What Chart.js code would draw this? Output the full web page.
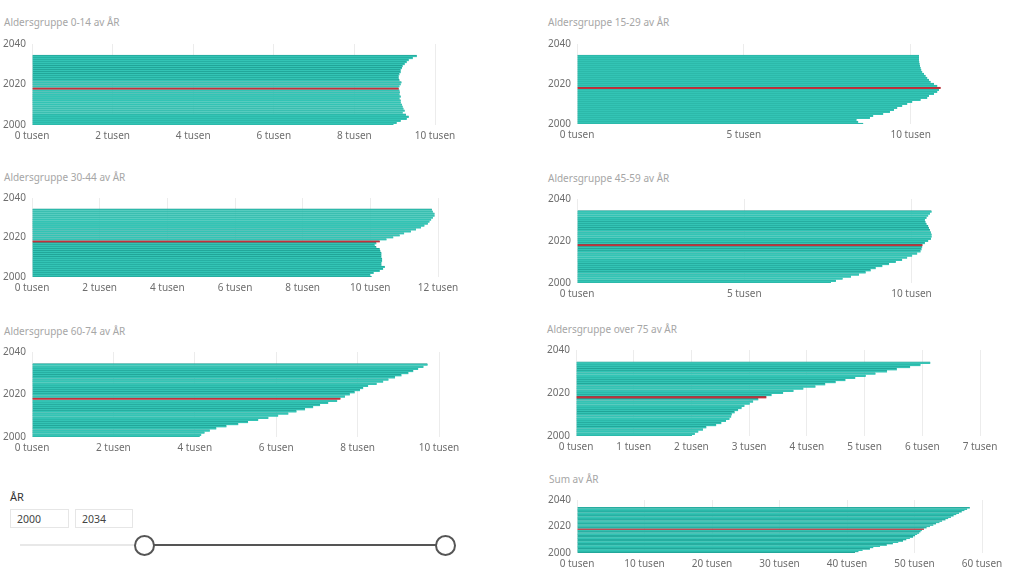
<!DOCTYPE html>
<html>
<head>
<meta charset="utf-8">
<script src="https://cdn.jsdelivr.net/npm/chart.js@4.4.1/dist/chart.umd.min.js"></script>
<style>
body { margin: 0; width: 1024px; height: 576px; background: #fff; position: relative; overflow: hidden;
       font-family: "Segoe UI", "Noto Sans", sans-serif; }
.box { position: absolute; }
.title { position: absolute; font-size: 10px; line-height: 12px; color: #a6a6a6; white-space: nowrap; }
.lbl { position: absolute; font-size: 11px; color: #333; }
.inp { position: absolute; height: 19px; border: 1px solid #e6e6e6; font-size: 10.5px; line-height: 19px;
       color: #444; padding-left: 6px; box-sizing: border-box; }
.track { position: absolute; height: 2px; }
.knob { position: absolute; width: 21px; height: 21px; border: 2px solid #555; border-radius: 50%;
        background: #fff; box-sizing: border-box; }
</style>
</head>
<body>
<script>
// years on the y axis, values in tusen (thousands)
var years = [2000, 2001, 2002, 2003, 2004, 2005, 2006, 2007, 2008, 2009,
             2010, 2011, 2012, 2013, 2014, 2015, 2016, 2017, 2018, 2019,
             2020, 2021, 2022, 2023, 2024, 2025, 2026, 2027, 2028, 2029,
             2030, 2031, 2032, 2033, 2034];
var highlightYear = 2018;

var age0_14 = [8.97, 9.05, 9.15, 9.3, 9.35, 9.28, 9.2, 9.25, 9.22, 9.2, 9.18, 9.15, 9.15, 9.12, 9.15, 9.12, 9.13, 9.12,
               9.1, 9.12, 9.15, 9.17, 9.12, 9.1, 9.1, 9.12, 9.15, 9.15, 9.18, 9.2, 9.25, 9.3, 9.35, 9.45, 9.55];
var age15_29 = [8.58, 8.43, 8.38, 8.78, 8.88, 9.18, 9.38, 9.5, 9.6, 9.75, 9.9, 10.05, 10.3, 10.5, 10.55, 10.7, 10.8, 10.85,
                10.9, 10.8, 10.7, 10.6, 10.55, 10.5, 10.45, 10.4, 10.35, 10.32, 10.3, 10.28, 10.27, 10.26, 10.25, 10.25, 10.25];
var age30_44 = [10.04, 10.0, 10.1, 10.28, 10.38, 10.43, 10.33, 10.33, 10.35, 10.35, 10.33, 10.33, 10.33, 10.3, 10.28, 10.18, 10.13, 10.18,
                10.28, 10.48, 10.68, 10.87, 11.0, 11.2, 11.35, 11.5, 11.6, 11.7, 11.75, 11.8, 11.85, 11.9, 11.9, 11.85, 11.82];
var age45_59 = [7.59, 7.74, 7.94, 8.19, 8.43, 8.63, 8.78, 8.93, 9.13, 9.33, 9.53, 9.72, 9.87, 10.02, 10.17, 10.27, 10.3, 10.32,
                10.33, 10.4, 10.5, 10.58, 10.6, 10.6, 10.58, 10.55, 10.52, 10.5, 10.45, 10.42, 10.4, 10.45, 10.5, 10.55, 10.6];
var age60_74 = [4.12, 4.16, 4.24, 4.37, 4.53, 4.78, 5.07, 5.31, 5.56, 5.81, 6.05, 6.3, 6.5, 6.71, 6.91, 7.08, 7.28, 7.5,
                7.58, 7.69, 7.81, 7.93, 8.06, 8.14, 8.26, 8.47, 8.63, 8.76, 8.92, 9.08, 9.25, 9.37, 9.49, 9.62, 9.72];
var age75 = [2.01, 2.06, 2.12, 2.2, 2.26, 2.43, 2.52, 2.6, 2.66, 2.69, 2.7, 2.75, 2.81, 2.87, 2.92, 3.01, 3.07, 3.16,
             3.3, 3.39, 3.59, 3.77, 3.94, 4.15, 4.32, 4.5, 4.67, 4.84, 5.02, 5.19, 5.39, 5.56, 5.79, 5.97, 6.14];
var sumAll = [41.2, 41.7, 42.3, 43.4, 43.9, 44.9, 45.9, 46.8, 47.6, 48.3, 48.8, 49.3, 49.8, 50.1, 50.4, 50.7, 50.9, 51.1,
              51.4, 51.8, 52.3, 52.8, 53.2, 53.7, 54.1, 54.6, 55.0, 55.4, 55.8, 56.2, 56.6, 57.0, 57.4, 57.8, 58.2];

var rangeFrom = "2000", rangeTo = "2034";

var teal = '#33c4b5', tealDark = '#1a968a', red = '#c4313b', redDark = '#8e2a30';
var tickFont = { family: '"Segoe UI", "Noto Sans", sans-serif', size: 10 };

function addChart(c) {
  var padTop = 8, padRight = 40, axisH = 22;
  var w = c.yw + (c.right - c.left) + padRight;
  var h = padTop + (c.bottom - c.top) + axisH;

  var t = document.createElement('div');
  t.className = 'title';
  t.style.left = c.tx + 'px';
  t.style.top = (c.ty - 6) + 'px';
  t.textContent = c.title;
  document.body.appendChild(t);

  var wrap = document.createElement('div');
  wrap.className = 'box';
  wrap.style.left = (c.left - c.yw) + 'px';
  wrap.style.top = (c.top - padTop) + 'px';
  var cv = document.createElement('canvas');
  cv.width = w; cv.height = h;
  wrap.appendChild(cv);
  document.body.appendChild(wrap);

  new Chart(cv, {
    type: 'bar',
    data: {
      datasets: [{
        data: c.values.map(function (v, i) { return { x: v, y: years[i] }; }),
        backgroundColor: years.map(function (y) { return y === highlightYear ? red : teal; }),
        borderColor: years.map(function (y) { return y === highlightYear ? redDark : tealDark; }),
        borderWidth: { top: 0.7, bottom: 0, left: 0, right: 0 },
        borderSkipped: false,
        barPercentage: 1,
        categoryPercentage: 1
      }]
    },
    options: {
      indexAxis: 'y',
      responsive: false,
      animation: false,
      layout: { padding: { top: padTop, right: padRight, left: 0, bottom: 0 } },
      plugins: { legend: { display: false }, tooltip: { enabled: false } },
      scales: {
        x: {
          type: 'linear', min: 0, max: c.max,
          grid: { color: '#ececec', drawTicks: false },
          border: { display: false },
          ticks: { stepSize: c.step, padding: 5, color: '#6e6e6e', font: tickFont, maxRotation: 0, autoSkip: false,
                   callback: function (v) { return v + ' tusen'; } },
          afterBuildTicks: function (ax) {
            ax.ticks = ax.ticks.filter(function (tk) { return tk.value % c.step === 0; });
          },
          afterFit: function (ax) { ax.height = axisH; }
        },
        y: {
          type: 'linear', min: 2000, max: 2040, offset: false,
          grid: { display: false, drawTicks: false },
          border: { display: false },
          ticks: { stepSize: 20, padding: 6, color: '#6e6e6e', font: tickFont,
                   callback: function (v) { return String(v); } },
          afterFit: function (ax) { ax.width = c.yw; }
        }
      }
    }
  });
}

addChart({ title: 'Aldersgruppe 0-14 av ÅR', values: age0_14, max: 10, step: 2,
           tx: 4, ty: 22, left: 32, right: 435, top: 40, bottom: 125, yw: 32 });
addChart({ title: 'Aldersgruppe 15-29 av ÅR', values: age15_29, max: 11, step: 5,
           tx: 548, ty: 22, left: 577, right: 944, top: 40, bottom: 124, yw: 31 });
addChart({ title: 'Aldersgruppe 30-44 av ÅR', values: age30_44, max: 12, step: 2,
           tx: 4, ty: 177, left: 32, right: 438, top: 194, bottom: 277, yw: 32 });
addChart({ title: 'Aldersgruppe 45-59 av ÅR', values: age45_59, max: 11, step: 5,
           tx: 548, ty: 178, left: 577, right: 945, top: 195, bottom: 283, yw: 31 });
addChart({ title: 'Aldersgruppe 60-74 av ÅR', values: age60_74, max: 10, step: 2,
           tx: 4, ty: 331, left: 32, right: 439, top: 348, bottom: 437, yw: 32 });
addChart({ title: 'Aldersgruppe over 75 av ÅR', values: age75, max: 7, step: 1,
           tx: 547, ty: 329, left: 576, right: 980, top: 346, bottom: 436, yw: 32 });
addChart({ title: 'Sum av ÅR', values: sumAll, max: 60, step: 10,
           tx: 549, ty: 479, left: 577, right: 982, top: 496, bottom: 553, yw: 31 });

// year range slicer
function el(cls, css, text) {
  var d = document.createElement('div');
  d.className = cls;
  for (var k in css) d.style[k] = css[k];
  if (text) d.textContent = text;
  document.body.appendChild(d);
  return d;
}
el('lbl', { left: '10px', top: '489px' }, 'ÅR');
el('inp', { left: '10px', top: '509px', width: '59px' }, rangeFrom);
el('inp', { left: '75px', top: '509px', width: '58px' }, rangeTo);
el('track', { left: '20px', top: '544px', width: '124px', background: '#e8e8e8' });
el('track', { left: '144px', top: '544px', width: '301px', background: '#555' });
el('knob', { left: '134px', top: '535px' });
el('knob', { left: '435px', top: '535px' });
</script>
</body>
</html>
